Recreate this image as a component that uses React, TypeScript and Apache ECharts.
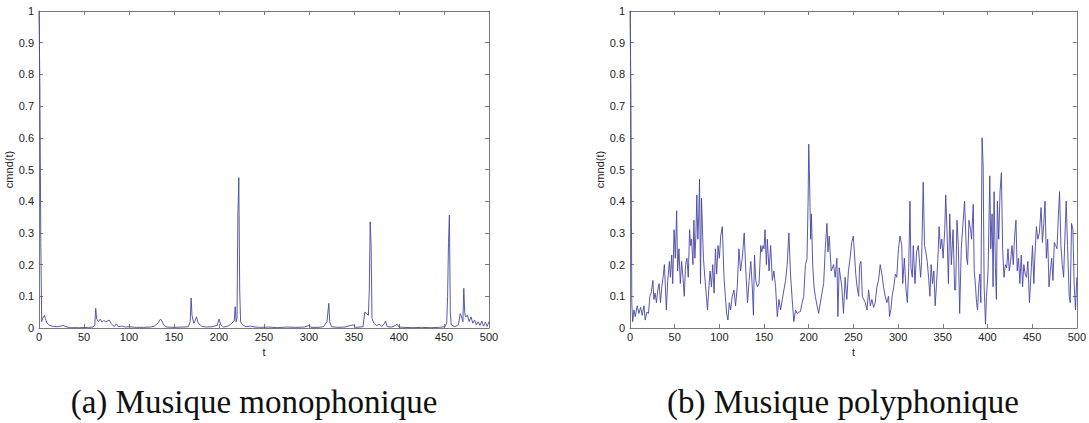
import React, { useEffect, useRef } from "react";
import * as echarts from "echarts";

// ---- Data ----
const xTicks = [0, 50, 100, 150, 200, 250, 300, 350, 400, 450, 500];
const yTicks = [0, 0.1, 0.2, 0.3, 0.4, 0.5, 0.6, 0.7, 0.8, 0.9, 1];
const captions = ["(a) Musique monophonique", "(b) Musique polyphonique"];
const yName = "cmnd(t)";
const xName = "t";

const monoT = [0,1,2,3,4,5,6,7,9,12,16,20,24,27,30,35,45,55,60,62,63,64,66,68,70,72,74,76,78,80,82,84,86,88,92,96,100,108,116,124,128,132,135,137,139,142,150,160,166,168,169,170,172,173,175,177,179,181,186,192,198,200,202,205,210,213,216,217,218,219,220,221,222,223,224,226,230,235,240,245,255,265,275,285,295,300,302,310,316,318,320,322,323,325,332,340,349,352,360,362,364,366,367,368,369,370,372,375,378,381,384,385,387,392,396,398,400,405,415,425,435,445,451,453,454,455,456,457,458,462,466,468,469,470,471,472,473,474,476,478,480,482,484,486,488,490,492,494,496,498,500];
const monoV = [1.0,0.76,0.27,0.02,0.03,0.035,0.04,0.03,0.015,0.008,0.005,0.004,0.006,0.008,0.004,0.001,0.001,0.002,0.003,0.01,0.062,0.03,0.02,0.028,0.018,0.024,0.02,0.022,0.025,0.015,0.008,0.005,0.013,0.004,0.006,0.003,0.004,0.002,0.002,0.003,0.006,0.015,0.028,0.02,0.008,0.003,0.002,0.003,0.004,0.02,0.095,0.04,0.015,0.02,0.035,0.015,0.01,0.005,0.003,0.004,0.008,0.028,0.01,0.003,0.006,0.012,0.02,0.025,0.067,0.02,0.03,0.36,0.474,0.12,0.02,0.01,0.004,0.006,0.003,0.002,0.003,0.001,0.003,0.002,0.003,0.008,0.002,0.002,0.004,0.012,0.02,0.078,0.02,0.004,0.002,0.003,0.01,0.002,0.004,0.05,0.045,0.04,0.12,0.335,0.26,0.03,0.015,0.008,0.012,0.005,0.015,0.022,0.004,0.003,0.008,0.012,0.003,0.002,0.001,0.002,0.001,0.002,0.004,0.015,0.1,0.27,0.356,0.05,0.01,0.004,0.01,0.045,0.04,0.03,0.02,0.125,0.05,0.035,0.04,0.02,0.035,0.015,0.025,0.01,0.02,0.008,0.022,0.006,0.018,0.005,0.02];

const polyT = [0,1,2,3,4.4,5.9,8.1,10,11.9,13.7,15.6,17,18.9,20.7,22.2,23.7,25.6,26.7,28.1,29.6,31.1,32.6,34.1,35.6,37,38.5,39.6,40.7,42.2,44.1,45.2,46.7,47.8,49.3,50.7,52.2,53.3,54.8,56.3,57.8,59.3,60.7,62.2,63.7,65.2,66.7,67.8,68.9,70.4,71.5,72.6,73.7,74.8,75.9,77,77.8,78.9,80,81.1,82.2,83.7,85.2,86.7,88.1,89.6,91.1,92.6,94.1,95.6,97,98.5,100,101.5,103.3,105.2,106.7,108.1,109.6,111.1,112.6,114.4,116.3,118.1,120,121.9,123.7,125.6,127.8,129.6,131.5,133.3,135.2,137,138.1,139.3,140.7,142.6,144.4,146.3,147.4,148.9,150,151.1,152.6,153.7,155.6,157.4,159.3,161.1,162.9,164.8,166.7,168.5,170.4,172.2,174.1,175.9,177.8,179.6,181.5,183.3,185.2,187,188.9,190.7,192.6,194.4,196.3,198.1,199.3,200,200.7,201.5,202.2,203,204.4,205.9,207.4,209.3,211.1,213,214.8,216.7,218.5,220.4,221.5,222.9,225.2,227.8,229.6,231.5,232.6,234.1,237,238.9,240.7,242.6,244.4,246.3,248.1,249.9,252.6,254.1,255.9,257,258.5,260,261.5,263.3,265.2,267,268.9,270.7,272.6,274.4,276.3,278.1,280,281.9,283.7,285.6,287.4,289.3,290.4,291.9,293.3,295.2,297,298.5,300.4,302.2,304.1,305.2,307,308.9,310.4,311.9,313.3,314.4,315.9,317,318.9,320.7,322.6,323.7,325.2,326.3,328.1,329.6,331.1,332.6,334.1,335.6,337,338.5,340,341.5,343,344.4,345.9,347.4,348.9,350.4,352.2,353.3,354.8,356.3,357.8,359.6,361.5,363.3,364.4,365.9,367.4,368.9,370.7,372.6,374.4,376.7,377.8,379.3,381.1,382.2,384.1,385.2,386.7,387.8,388.9,390.4,391.5,392.6,394,395.2,396.3,397.8,398.9,400.7,402.6,403.7,405.2,406.3,407.4,408.9,410,411.1,412.6,414.1,415.6,417,418.5,420,421.5,423,424.4,425.9,427.4,428.9,430.4,431.9,433.3,434.8,436.3,437.8,439.3,440.7,442.2,443.7,445.2,447,448.9,450.4,451.9,453.3,454.8,456.3,458.1,460,461.5,463,464.4,465.9,467.4,468.9,470.4,471.9,473.3,474.8,476.3,477.8,479.3,480.7,482.2,483.7,485.2,486.7,488.1,489.6,491.5,492.6,494.1,495.6,497,498.5,500];
const polyV = [1.0,0.75,0.08,0.02,0.057,0.036,0.07,0.046,0.065,0.04,0.07,0.025,0.05,0.046,0.1,0.11,0.15,0.09,0.11,0.08,0.12,0.14,0.08,0.13,0.16,0.2,0.13,0.057,0.15,0.21,0.16,0.23,0.14,0.31,0.22,0.37,0.18,0.25,0.14,0.21,0.16,0.1,0.2,0.22,0.16,0.31,0.26,0.28,0.2,0.34,0.22,0.29,0.42,0.28,0.36,0.47,0.14,0.41,0.31,0.22,0.16,0.11,0.057,0.12,0.18,0.13,0.2,0.11,0.25,0.17,0.26,0.22,0.29,0.32,0.16,0.1,0.046,0.025,0.08,0.057,0.1,0.12,0.07,0.13,0.25,0.18,0.22,0.3,0.18,0.08,0.15,0.21,0.12,0.04,0.23,0.15,0.13,0.14,0.26,0.24,0.26,0.25,0.31,0.2,0.28,0.18,0.26,0.15,0.18,0.13,0.036,0.09,0.057,0.09,0.12,0.15,0.2,0.3,0.17,0.09,0.02,0.057,0.046,0.05,0.052,0.08,0.1,0.2,0.22,0.4,0.58,0.5,0.38,0.28,0.36,0.2,0.13,0.1,0.07,0.046,0.08,0.11,0.14,0.25,0.33,0.24,0.29,0.18,0.2,0.16,0.22,0.036,0.19,0.13,0.046,0.16,0.09,0.18,0.22,0.27,0.29,0.17,0.13,0.1,0.2,0.21,0.1,0.09,0.08,0.057,0.12,0.07,0.09,0.065,0.08,0.13,0.15,0.2,0.17,0.13,0.1,0.08,0.1,0.036,0.057,0.1,0.13,0.17,0.16,0.25,0.29,0.26,0.14,0.22,0.12,0.08,0.19,0.4,0.19,0.16,0.26,0.14,0.24,0.26,0.22,0.16,0.21,0.46,0.26,0.24,0.21,0.16,0.1,0.2,0.14,0.18,0.07,0.14,0.21,0.32,0.25,0.28,0.22,0.31,0.42,0.3,0.14,0.36,0.2,0.31,0.12,0.12,0.34,0.26,0.046,0.25,0.33,0.4,0.22,0.2,0.34,0.31,0.28,0.39,0.18,0.13,0.08,0.057,0.14,0.17,0.08,0.6,0.51,0.13,0.012,0.1,0.18,0.48,0.25,0.36,0.13,0.43,0.19,0.09,0.4,0.28,0.43,0.49,0.25,0.16,0.2,0.19,0.25,0.18,0.21,0.26,0.2,0.29,0.34,0.18,0.22,0.14,0.23,0.13,0.2,0.17,0.16,0.21,0.08,0.18,0.26,0.14,0.24,0.32,0.28,0.3,0.38,0.27,0.33,0.4,0.22,0.28,0.13,0.18,0.22,0.15,0.27,0.26,0.25,0.35,0.43,0.26,0.2,0.16,0.29,0.4,0.26,0.1,0.08,0.33,0.31,0.14,0.057,0.16];

const zip = (t: number[], v: number[]) => t.map((x, i) => [x, v[i]]);

const LINE = "#4646a6";
const AXIS = "#7a7a7a";
const LABEL = "#222";
const SANS = "'Liberation Sans', Arial, sans-serif";
const SERIF = "33px 'Liberation Serif', 'Times New Roman', serif";

export default function App() {
  const ref = useRef<HTMLDivElement>(null);
  useEffect(() => {
    if (!ref.current) return;
    const chart = echarts.init(ref.current, undefined, { renderer: "svg" });
    const grids = [
      { left: 39, top: 11, width: 450, height: 317 },
      { left: 630, top: 11, width: 450, height: 317 },
    ];
    const xAxes: any[] = [];
    const yAxes: any[] = [];
    grids.forEach((_, gi) => {
      const base = {
        gridIndex: gi,
        type: "value",
        min: xTicks[0],
        max: xTicks[xTicks.length - 1],
        interval: xTicks[1] - xTicks[0],
        splitLine: { show: false },
        axisLine: { show: true, onZero: false, lineStyle: { color: AXIS, width: 1 } },
        axisTick: { show: true, inside: true, length: 4, lineStyle: { color: AXIS } },
      };
      xAxes.push({
        ...base,
        position: "bottom",
        name: xName,
        nameLocation: "middle",
        nameGap: 17,
        nameTextStyle: { color: LABEL, fontSize: 11, fontFamily: SANS },
        axisLabel: { color: LABEL, fontSize: 11, fontFamily: SANS, margin: 3 },
      });
      xAxes.push({ ...base, position: "top", axisLabel: { show: false } });
      const ybase = {
        gridIndex: gi,
        type: "value",
        min: yTicks[0],
        max: yTicks[yTicks.length - 1],
        interval: yTicks[1] - yTicks[0],
        splitLine: { show: false },
        axisLine: { show: true, onZero: false, lineStyle: { color: AXIS, width: 1 } },
        axisTick: { show: true, inside: true, length: 4, lineStyle: { color: AXIS } },
      };
      yAxes.push({
        ...ybase,
        position: "left",
        name: yName,
        nameLocation: "middle",
        nameGap: 23,
        nameRotate: 90,
        nameTextStyle: { color: LABEL, fontSize: 11, fontFamily: SANS },
        axisLabel: { color: LABEL, fontSize: 11, fontFamily: SANS, margin: 5 },
      });
      yAxes.push({ ...ybase, position: "right", axisLabel: { show: false } });
    });
    chart.setOption({
      animation: false,
      backgroundColor: "#fff",
      grid: grids,
      xAxis: xAxes,
      yAxis: yAxes,
      series: [
        {
          type: "line",
          xAxisIndex: 0,
          yAxisIndex: 0,
          data: zip(monoT, monoV),
          showSymbol: false,
          lineStyle: { color: LINE, width: 0.9 },
        },
        {
          type: "line",
          xAxisIndex: 2,
          yAxisIndex: 2,
          data: zip(polyT, polyV),
          showSymbol: false,
          lineStyle: { color: LINE, width: 0.9 },
        },
      ],
      graphic: [
        {
          type: "text",
          x: 254,
          y: 402,
          style: {
            text: captions[0],
            fill: "#111",
            font: SERIF,
            textAlign: "center",
            textVerticalAlign: "middle",
          },
        },
        {
          type: "text",
          x: 843,
          y: 402,
          style: {
            text: captions[1],
            fill: "#111",
            font: SERIF,
            textAlign: "center",
            textVerticalAlign: "middle",
          },
        },
      ],
    });
    return () => chart.dispose();
  }, []);
  return (
    <div
      ref={ref}
      style={{ position: "fixed", left: 0, top: 0, width: 1089, height: 423, background: "#fff" }}
    />
  );
}
